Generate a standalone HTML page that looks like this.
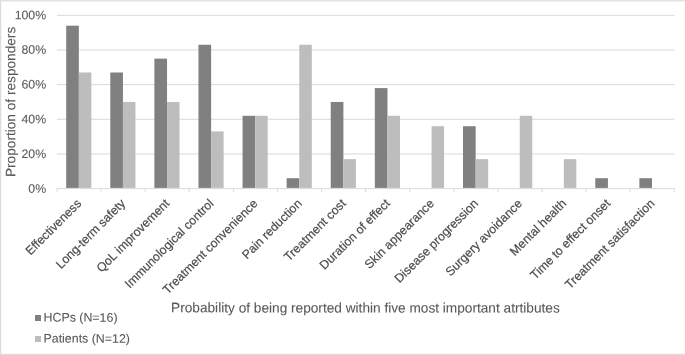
<!DOCTYPE html><html><head><meta charset="utf-8"><title>chart</title><style>html,body{margin:0;padding:0;background:#fff}svg{display:block;will-change:transform}text{font-family:"Liberation Sans",Arial,sans-serif;fill:#595959;stroke:#595959;stroke-width:0.08px;text-rendering:geometricPrecision}text.r{fill:#4c4c4c;stroke:#4c4c4c;stroke-width:0.2px}</style></head><body>
<svg width="685" height="355" viewBox="0 0 685 355">
<rect x="0" y="0" width="685" height="355" fill="#fff"/>
<rect x="0" y="0" width="685" height="1" fill="#e2e2e2"/><rect x="0" y="1" width="685" height="1" fill="#f2f2f2"/>
<rect x="0" y="354" width="685" height="1" fill="#dddddd"/><rect x="0" y="353" width="685" height="1" fill="#f6f6f6"/>
<rect x="0" y="0" width="1" height="355" fill="#dcdcdc"/><rect x="1" y="1" width="1" height="353" fill="#f6f6f6"/>
<rect x="684" y="1" width="1" height="353" fill="#fbfbfb"/>
<line x1="57.00" y1="188.60" x2="674.26" y2="188.60" stroke="#d9d9d9" stroke-width="1"/>
<text transform="translate(46.1,192.70) rotate(0.03)" font-size="12.3" text-anchor="end">0%</text>
<line x1="57.00" y1="153.94" x2="674.26" y2="153.94" stroke="#d9d9d9" stroke-width="1"/>
<text transform="translate(46.1,157.99) rotate(0.03)" font-size="12.3" text-anchor="end">20%</text>
<line x1="57.00" y1="119.28" x2="674.26" y2="119.28" stroke="#d9d9d9" stroke-width="1"/>
<text transform="translate(46.1,123.28) rotate(0.03)" font-size="12.3" text-anchor="end">40%</text>
<line x1="57.00" y1="84.62" x2="674.26" y2="84.62" stroke="#d9d9d9" stroke-width="1"/>
<text transform="translate(46.1,88.57) rotate(0.03)" font-size="12.3" text-anchor="end">60%</text>
<line x1="57.00" y1="49.96" x2="674.26" y2="49.96" stroke="#d9d9d9" stroke-width="1"/>
<text transform="translate(46.1,53.86) rotate(0.03)" font-size="12.3" text-anchor="end">80%</text>
<line x1="57.00" y1="15.30" x2="674.26" y2="15.30" stroke="#d9d9d9" stroke-width="1"/>
<text transform="translate(46.1,19.15) rotate(0.03)" font-size="12.3" text-anchor="end">100%</text>
<line x1="57.00" y1="188.10" x2="57.00" y2="192.40" stroke="#d9d9d9" stroke-width="1"/>
<line x1="101.09" y1="188.10" x2="101.09" y2="192.40" stroke="#d9d9d9" stroke-width="1"/>
<line x1="145.18" y1="188.10" x2="145.18" y2="192.40" stroke="#d9d9d9" stroke-width="1"/>
<line x1="189.27" y1="188.10" x2="189.27" y2="192.40" stroke="#d9d9d9" stroke-width="1"/>
<line x1="233.36" y1="188.10" x2="233.36" y2="192.40" stroke="#d9d9d9" stroke-width="1"/>
<line x1="277.45" y1="188.10" x2="277.45" y2="192.40" stroke="#d9d9d9" stroke-width="1"/>
<line x1="321.54" y1="188.10" x2="321.54" y2="192.40" stroke="#d9d9d9" stroke-width="1"/>
<line x1="365.63" y1="188.10" x2="365.63" y2="192.40" stroke="#d9d9d9" stroke-width="1"/>
<line x1="409.72" y1="188.10" x2="409.72" y2="192.40" stroke="#d9d9d9" stroke-width="1"/>
<line x1="453.81" y1="188.10" x2="453.81" y2="192.40" stroke="#d9d9d9" stroke-width="1"/>
<line x1="497.90" y1="188.10" x2="497.90" y2="192.40" stroke="#d9d9d9" stroke-width="1"/>
<line x1="541.99" y1="188.10" x2="541.99" y2="192.40" stroke="#d9d9d9" stroke-width="1"/>
<line x1="586.08" y1="188.10" x2="586.08" y2="192.40" stroke="#d9d9d9" stroke-width="1"/>
<line x1="630.17" y1="188.10" x2="630.17" y2="192.40" stroke="#d9d9d9" stroke-width="1"/>
<line x1="674.26" y1="188.10" x2="674.26" y2="192.40" stroke="#d9d9d9" stroke-width="1"/>
<rect x="66.20" y="25.70" width="12.65" height="162.20" fill="#808080"/>
<rect x="78.84" y="72.49" width="12.50" height="115.41" fill="#bdbdbd"/>
<text class="r" font-size="12.3" text-anchor="end" transform="translate(82.05,204.20) rotate(-45)">Effectiveness</text>
<rect x="110.29" y="72.49" width="12.65" height="115.41" fill="#808080"/>
<rect x="122.94" y="101.95" width="12.50" height="85.95" fill="#bdbdbd"/>
<text class="r" font-size="12.3" text-anchor="end" transform="translate(126.14,204.20) rotate(-45)">Long-term safety</text>
<rect x="154.38" y="58.62" width="12.65" height="129.28" fill="#808080"/>
<rect x="167.03" y="101.95" width="12.50" height="85.95" fill="#bdbdbd"/>
<text class="r" font-size="12.3" text-anchor="end" transform="translate(170.23,204.20) rotate(-45)">QoL improvement</text>
<rect x="198.47" y="44.76" width="12.65" height="143.14" fill="#808080"/>
<rect x="211.12" y="131.41" width="12.50" height="56.49" fill="#bdbdbd"/>
<text class="r" font-size="12.3" text-anchor="end" transform="translate(214.31,204.20) rotate(-45)">Immunological control</text>
<rect x="242.56" y="115.81" width="12.65" height="72.09" fill="#808080"/>
<rect x="255.21" y="115.81" width="12.50" height="72.09" fill="#bdbdbd"/>
<text class="r" font-size="12.3" text-anchor="end" transform="translate(258.41,204.20) rotate(-45)">Treatment convenience</text>
<rect x="286.64" y="178.20" width="12.65" height="9.70" fill="#808080"/>
<rect x="299.30" y="44.76" width="12.50" height="143.14" fill="#bdbdbd"/>
<text class="r" font-size="12.3" text-anchor="end" transform="translate(302.50,204.20) rotate(-45)">Pain reduction</text>
<rect x="330.74" y="101.95" width="12.65" height="85.95" fill="#808080"/>
<rect x="343.39" y="159.14" width="12.50" height="28.76" fill="#bdbdbd"/>
<text class="r" font-size="12.3" text-anchor="end" transform="translate(346.59,204.20) rotate(-45)">Treatment cost</text>
<rect x="374.82" y="88.09" width="12.65" height="99.81" fill="#808080"/>
<rect x="387.48" y="115.81" width="12.50" height="72.09" fill="#bdbdbd"/>
<text class="r" font-size="12.3" text-anchor="end" transform="translate(390.68,204.20) rotate(-45)">Duration of effect</text>
<rect x="431.57" y="126.21" width="12.50" height="61.69" fill="#bdbdbd"/>
<text class="r" font-size="12.3" text-anchor="end" transform="translate(434.77,204.20) rotate(-45)">Skin appearance</text>
<rect x="463.00" y="126.21" width="12.65" height="61.69" fill="#808080"/>
<rect x="475.66" y="159.14" width="12.50" height="28.76" fill="#bdbdbd"/>
<text class="r" font-size="12.3" text-anchor="end" transform="translate(478.86,204.20) rotate(-45)">Disease progression</text>
<rect x="519.75" y="115.81" width="12.50" height="72.09" fill="#bdbdbd"/>
<text class="r" font-size="12.3" text-anchor="end" transform="translate(522.95,204.20) rotate(-45)">Surgery avoidance</text>
<rect x="563.84" y="159.14" width="12.50" height="28.76" fill="#bdbdbd"/>
<text class="r" font-size="12.3" text-anchor="end" transform="translate(567.04,204.20) rotate(-45)">Mental health</text>
<rect x="595.27" y="178.20" width="12.65" height="9.70" fill="#808080"/>
<text class="r" font-size="12.3" text-anchor="end" transform="translate(611.12,204.20) rotate(-45)">Time to effect onset</text>
<rect x="639.37" y="178.20" width="12.65" height="9.70" fill="#808080"/>
<text class="r" font-size="12.3" text-anchor="end" transform="translate(655.22,204.20) rotate(-45)">Treatment satisfaction</text>
<text font-size="13.67" text-anchor="middle" transform="translate(15.3,101.9) rotate(-89.97)">Proportion of responders</text>
<text font-size="13.67" text-anchor="middle" transform="translate(365.4,312.45) rotate(0.03)">Probability of being reported within five most important atrtibutes</text>
<rect x="35" y="315" width="6" height="6" fill="#808080"/>
<text font-size="12.4" transform="translate(43.5,321.6) rotate(0.03)">HCPs (N=16)</text>
<rect x="35" y="336" width="6" height="6" fill="#bdbdbd"/>
<text font-size="12.4" transform="translate(43.5,342.6) rotate(0.03)">Patients (N=12)</text>
</svg></body></html>
